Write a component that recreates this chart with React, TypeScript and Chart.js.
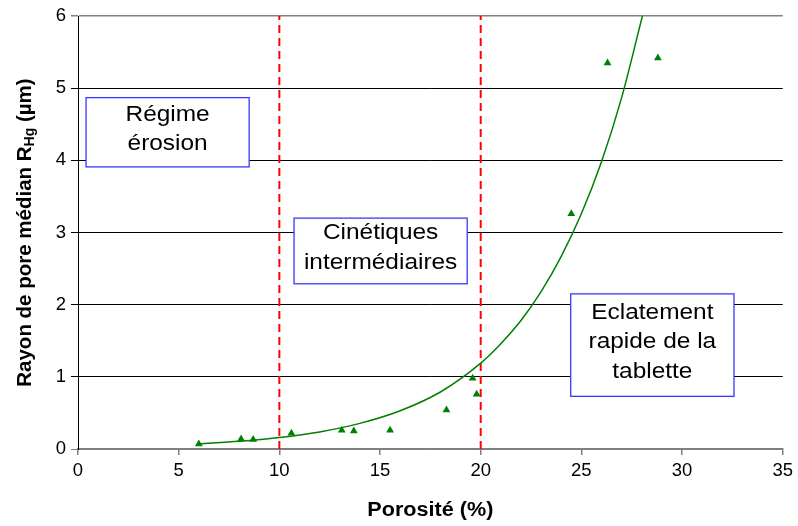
import React, { useEffect, useRef } from "react";
import { Chart, registerables } from "chart.js";

Chart.register(...registerables);

// Measured points
const porosite = [6.0, 8.1, 8.7, 10.6, 13.1, 13.7, 15.5, 18.3, 19.6, 19.8, 24.5, 26.3, 28.8];
const rayon = [0.07, 0.14, 0.13, 0.22, 0.26, 0.25, 0.26, 0.54, 0.98, 0.76, 3.26, 5.35, 5.42];

// Exponential trend curve
const trendX = [6, 8, 10, 12, 14, 16, 18, 20, 21, 22, 23, 24, 25, 26, 27, 28.03];
const trendY = [0.071, 0.106, 0.159, 0.237, 0.355, 0.53, 0.79, 1.19, 1.46, 1.78, 2.18, 2.67, 3.26, 3.98, 4.87, 6.0];

// Regime boundaries (dashed red lines)
const boundaries = [10, 20];

// Axis ranges / ticks
const xMin = 0, xMax = 35, xStep = 5;
const yMin = 0, yMax = 6, yStep = 1;

// Zone labels
const zoneLabels = [
  ["Régime", "érosion"],
  ["Cinétiques", "intermédiaires"],
  ["Eclatement", "rapide de la", "tablette"],
];
// Box extents in data coordinates: [xLeft, xRight, yTop, yBottom]
const zoneBoxes = [
  [0.4, 8.5, 4.87, 3.91],
  [10.73, 19.33, 3.2, 2.29],
  [24.47, 32.58, 2.15, 0.73],
];

const xTitle = "Porosité (%)";
const yTitleMain = "Rayon de pore médian R";
const yTitleSub = "Hg";
const yTitleEnd = " (µm)";

const FONT = '"Liberation Sans", Arial, sans-serif';

const overlayPlugin = {
  id: "overlay",
  afterDatasetsDraw(chart: any) {
    const { ctx, scales } = chart;
    const xs = scales.x, ys = scales.y;
    zoneBoxes.forEach((b, i) => {
      const l = xs.getPixelForValue(b[0]);
      const r = xs.getPixelForValue(b[1]);
      const t = ys.getPixelForValue(b[2]);
      const btm = ys.getPixelForValue(b[3]);
      ctx.save();
      ctx.fillStyle = "#ffffff";
      ctx.fillRect(l, t, r - l, btm - t);
      ctx.strokeStyle = "#3838ff";
      ctx.lineWidth = 1.3;
      ctx.strokeRect(l, t, r - l, btm - t);
      const lines = zoneLabels[i];
      const lh = 29.5;
      const cx = (l + r) / 2;
      const cy = (t + btm) / 2 - 3;
      ctx.fillStyle = "#000";
      ctx.font = `22px ${FONT}`;
      ctx.textAlign = "center";
      ctx.textBaseline = "middle";
      lines.forEach((s, k) => {
        const y = cy + (k - (lines.length - 1) / 2) * lh;
        ctx.save();
        ctx.translate(cx, y);
        ctx.scale(1.11, 1);
        ctx.fillText(s, 0, 0);
        ctx.restore();
      });
      ctx.restore();
    });
  },
  afterDraw(chart: any) {
    const { ctx, chartArea } = chart;
    ctx.save();
    ctx.fillStyle = "#000";
    // X title
    ctx.font = `bold 20px ${FONT}`;
    ctx.textAlign = "center";
    ctx.textBaseline = "middle";
    ctx.save();
    ctx.translate((chartArea.left + chartArea.right) / 2, 510);
    ctx.scale(1.08, 1);
    ctx.fillText(xTitle, 0, 0);
    ctx.restore();
    // Y title with subscript
    const mainFont = `bold 20.5px ${FONT}`;
    const subFont = `bold 14px ${FONT}`;
    ctx.font = mainFont;
    const w1 = ctx.measureText(yTitleMain).width;
    const w3 = ctx.measureText(yTitleEnd).width;
    ctx.font = subFont;
    const w2 = ctx.measureText(yTitleSub).width;
    const total = w1 + w2 + w3;
    ctx.translate(25, (chartArea.top + chartArea.bottom) / 2);
    ctx.rotate(-Math.PI / 2);
    ctx.textAlign = "left";
    ctx.textBaseline = "middle";
    let x0 = -total / 2;
    ctx.font = mainFont;
    ctx.fillText(yTitleMain, x0, 0);
    x0 += w1;
    ctx.font = subFont;
    ctx.fillText(yTitleSub, x0, 5);
    x0 += w2;
    ctx.font = mainFont;
    ctx.fillText(yTitleEnd, x0, 0);
    ctx.restore();
  },
};

export default function App() {
  const ref = useRef<HTMLCanvasElement | null>(null);
  useEffect(() => {
    if (!ref.current) return;
    const chart = new Chart(ref.current, {
      type: "scatter",
      data: {
        datasets: [
          ...boundaries.map((bx) => ({
            data: [
              { x: bx, y: yMin },
              { x: bx, y: yMax },
            ],
            showLine: true,
            borderColor: "#ff0000",
            borderWidth: 2,
            borderDash: [8, 5],
            pointRadius: 0,
            order: 3,
          })),
          {
            data: trendX.map((x, i) => ({ x, y: trendY[i] })),
            showLine: true,
            borderColor: "#008000",
            borderWidth: 1.5,
            pointRadius: 0,
            cubicInterpolationMode: "monotone",
            order: 2,
          },
          {
            data: porosite.map((x, i) => ({ x, y: rayon[i] })),
            showLine: false,
            pointStyle: "triangle",
            pointRadius: 4.5,
            backgroundColor: "#008000",
            borderColor: "#008000",
            borderWidth: 0,
            order: 1,
          },
        ] as any,
      },
      options: {
        animation: false,
        responsive: false,
        devicePixelRatio: 1,
        layout: { padding: { top: 15, right: 12, left: 0, bottom: 0 } },
        plugins: { legend: { display: false }, tooltip: { enabled: false } },
        scales: {
          x: {
            type: "linear",
            min: xMin,
            max: xMax,
            ticks: {
              stepSize: xStep,
              color: "#000",
              font: { family: FONT, size: 18.5 },
              padding: 5,
            },
            grid: {
              drawOnChartArea: false,
              drawTicks: true,
              tickLength: 6,
              color: "#808080",
              lineWidth: 1.5,
            },
            border: { color: "#808080", width: 1.5 },
            afterFit: (s: any) => {
              s.height = 77;
            },
          },
          y: {
            type: "linear",
            min: yMin,
            max: yMax,
            ticks: {
              stepSize: yStep,
              color: "#000",
              font: { family: FONT, size: 18.5 },
              padding: 5,
            },
            grid: {
              color: (c: any) => (c.tick && (c.tick.value === yMax || c.tick.value === yMin) ? "#808080" : "#000"),
              lineWidth: (c: any) => (c.tick && c.tick.value === yMax ? 1.5 : 1),
              tickLength: 7,
            },
            border: { color: "#000", width: 1 },
            afterFit: (s: any) => {
              s.width = 78;
            },
          },
        },
      } as any,
      plugins: [overlayPlugin],
    });
    return () => chart.destroy();
  }, []);
  return (
    <div style={{ position: "absolute", left: 0, top: 0, width: 798, height: 526, background: "#fff" }}>
      <canvas ref={ref} width={798} height={526} style={{ display: "block" }} />
    </div>
  );
}
